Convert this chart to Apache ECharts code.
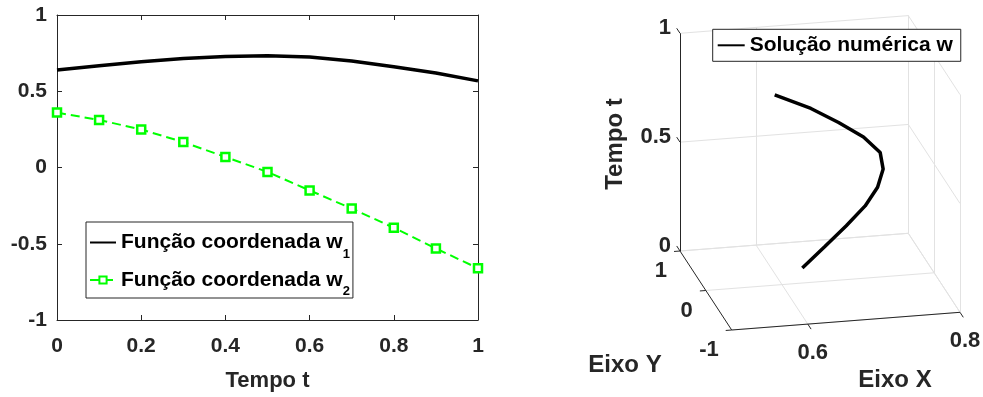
<!DOCTYPE html>
<html>
<head>
<meta charset="utf-8">
<script src="https://cdn.jsdelivr.net/npm/echarts@6/dist/echarts.min.js"></script>
<style>
  html, body { margin: 0; padding: 0; background: #fff; }
  #chart { width: 983px; height: 397px; }
</style>
</head>
<body>
<div id="chart"></div>
<script>
// dados
const tempo = [0, 0.1, 0.2, 0.3, 0.4, 0.5, 0.6, 0.7, 0.8, 0.9, 1];
const w1 = [0.639, 0.667, 0.693, 0.715, 0.728, 0.732, 0.724, 0.698, 0.661, 0.620, 0.568];
const w2 = [0.360, 0.312, 0.249, 0.167, 0.069, -0.029, -0.150, -0.269, -0.395, -0.531, -0.661];

// eixos do grafico 3D
const xLim3d = [0.5, 0.8];
const yLim3d = [-1, 1];
const zLim3d = [0, 1];
const xTicks3d = [0.6, 0.8];
const yTicks3d = [-1, 0, 1];
const zTicks3d = [0, 0.5, 1];

const FONT = '"Liberation Sans", Arial, Helvetica, sans-serif';
const AXIS = '#262626';
const GRID3D = '#e2e2e2';

// projecao da caixa 3D em pixels da pagina (vista fixa)
const view = { o: [731.7, 330], ex: [228.3, -17.7], ey: [-51.7, -79], ez: [0, -217.7] };
function proj(x, y, z) {
  const fx = (x - xLim3d[0]) / (xLim3d[1] - xLim3d[0]);
  const fy = (y - yLim3d[0]) / (yLim3d[1] - yLim3d[0]);
  const fz = (z - zLim3d[0]) / (zLim3d[1] - zLim3d[0]);
  return [
    view.o[0] + fx * view.ex[0] + fy * view.ey[0] + fz * view.ez[0],
    view.o[1] + fx * view.ex[1] + fy * view.ey[1] + fz * view.ez[1]
  ];
}
function unit(v) { const l = Math.hypot(v[0], v[1]); return [v[0] / l, v[1] / l]; }
function seg(a, b) { return { coords: [proj(...a), proj(...b)] }; }

const [x0, x1] = xLim3d, [y0, y1] = yLim3d, [z0, z1] = zLim3d;
const gridLines = [];
xTicks3d.forEach(x => { gridLines.push(seg([x, y0, z0], [x, y1, z0]), seg([x, y1, z0], [x, y1, z1])); });
yTicks3d.forEach(y => { gridLines.push(seg([x0, y, z0], [x1, y, z0]), seg([x1, y, z0], [x1, y, z1])); });
zTicks3d.forEach(z => { gridLines.push(seg([x0, y1, z], [x1, y1, z]), seg([x1, y0, z], [x1, y1, z])); });

const axisLines = [seg([x0, y0, z0], [x1, y0, z0]), seg([x0, y0, z0], [x0, y1, z0]), seg([x0, y1, z0], [x0, y1, z1])];
function tick(p, dir, len) { const u = unit(dir); return { coords: [p, [p[0] + u[0] * len, p[1] + u[1] * len]] }; }
xTicks3d.forEach(x => axisLines.push(tick(proj(x, y0, z0), [-view.ey[0], -view.ey[1]], 6)));
yTicks3d.forEach(y => axisLines.push(tick(proj(x0, y, z0), [-view.ex[0], -view.ex[1]], 6)));
zTicks3d.forEach(z => axisLines.push(tick(proj(x0, y1, z), view.ey, 6)));

const labels3d = [];
function addLabel(p, dx, dy, text, align, size, rotate) {
  labels3d.push({ pos: [p[0] + dx, p[1] + dy], text, align, size, rotate: rotate || 0 });
}
xTicks3d.forEach(x => addLabel(proj(x, y0, z0), 5, 29, String(x), 'center', 22));
yTicks3d.forEach(y => addLabel(proj(x0, y, z0), -13, 20, String(y), 'right', 22));
zTicks3d.forEach(z => addLabel(proj(x0, y1, z), -9, -5, String(z), 'right', 22));
addLabel([615, 144], 0, 0, 'Tempo t', 'center', 24, Math.PI / 2);
addLabel([625, 365], 0, 0, 'Eixo Y', 'center', 24);
addLabel([895, 380], 0, 0, 'Eixo X', 'center', 24);

const curve3d = tempo.map((t, i) => proj(w1[i], w2[i], t));

function legendRich(name) {
  const m = name.match(/^(.*w)(\d)$/);
  return m ? '{n|' + m[1] + '}{s|' + m[2] + '}' : '{n|' + name + '}';
}
const richText = {
  n: { fontFamily: FONT, fontWeight: 'bold', fontSize: 21, color: '#000', lineHeight: 36 },
  s: { fontFamily: FONT, fontWeight: 'bold', fontSize: 13, color: '#000', lineHeight: 10, verticalAlign: 'bottom' }
};
const hideSymbol = { opacity: 0 };

const chart = echarts.init(document.getElementById('chart'));
chart.setOption({
  animation: false,
  backgroundColor: '#fff',
  textStyle: { fontFamily: FONT },
  grid: [
    { left: 57, top: 15, width: 421, height: 308 },
    { left: 0, top: 0, right: 0, bottom: 0 }
  ],
  legend: [
    {
      data: [{ name: 'Função coordenada w1', itemStyle: hideSymbol }, 'Função coordenada w2'],
      orient: 'vertical', left: 86, top: 222, itemWidth: 26, itemHeight: 9, itemGap: 9,
      padding: [10, 3, 0, 3], backgroundColor: '#fff', borderColor: AXIS, borderWidth: 1,
      selectedMode: false, formatter: legendRich,
      textStyle: { fontFamily: FONT, fontWeight: 'bold', fontSize: 21, color: '#000', rich: richText }
    },
    {
      data: [{ name: 'Solução numérica w', itemStyle: hideSymbol }],
      left: 712.7, top: 29.3, itemWidth: 27, itemHeight: 12,
      padding: [4, 8, 4, 4], backgroundColor: '#fff', borderColor: AXIS, borderWidth: 1,
      selectedMode: false,
      textStyle: { fontFamily: FONT, fontWeight: 'bold', fontSize: 21, color: '#000', lineHeight: 24 }
    }
  ],
  xAxis: [
    {
      gridIndex: 0, type: 'value', min: 0, max: 1, interval: 0.2,
      name: 'Tempo t', nameLocation: 'middle', nameGap: 50,
      nameTextStyle: { fontFamily: FONT, fontWeight: 'bold', fontSize: 22, color: AXIS },
      axisLine: { onZero: false, lineStyle: { color: AXIS, width: 1 } },
      axisTick: { inside: true, length: 5, lineStyle: { color: AXIS } },
      axisLabel: { margin: 16, fontFamily: FONT, fontWeight: 'bold', fontSize: 21, color: AXIS },
      splitLine: { show: false }
    },
    {
      gridIndex: 0, type: 'value', position: 'top', min: 0, max: 1, interval: 0.2,
      axisLine: { onZero: false, lineStyle: { color: AXIS, width: 1 } },
      axisTick: { inside: true, length: 5, lineStyle: { color: AXIS } },
      axisLabel: { show: false }, splitLine: { show: false }
    },
    { gridIndex: 1, type: 'value', min: 0, max: 983, show: false }
  ],
  yAxis: [
    {
      gridIndex: 0, type: 'value', min: -1, max: 1, interval: 0.5,
      axisLine: { onZero: false, lineStyle: { color: AXIS, width: 1 } },
      axisTick: { inside: true, length: 5, lineStyle: { color: AXIS } },
      axisLabel: { margin: 10, fontFamily: FONT, fontWeight: 'bold', fontSize: 21, color: AXIS },
      splitLine: { show: false }
    },
    {
      gridIndex: 0, type: 'value', position: 'right', min: -1, max: 1, interval: 0.5,
      axisLine: { onZero: false, lineStyle: { color: AXIS, width: 1 } },
      axisTick: { inside: true, length: 5, lineStyle: { color: AXIS } },
      axisLabel: { show: false }, splitLine: { show: false }
    },
    { gridIndex: 1, type: 'value', min: 0, max: 397, inverse: true, show: false }
  ],
  series: [
    {
      name: 'Função coordenada w1', type: 'line', xAxisIndex: 0, yAxisIndex: 0,
      data: tempo.map((t, i) => [t, w1[i]]),
      symbol: 'none', lineStyle: { color: '#000', width: 3.5 }, itemStyle: { color: '#000' }
    },
    {
      name: 'Função coordenada w2', type: 'line', xAxisIndex: 0, yAxisIndex: 0,
      data: tempo.map((t, i) => [t, w2[i]]),
      symbol: 'rect', symbolSize: 8,
      lineStyle: { color: '#00ff00', width: 2, type: [9, 5] },
      itemStyle: { color: '#fff', borderColor: '#00ff00', borderWidth: 2.5 }
    },
    {
      type: 'lines', coordinateSystem: 'cartesian2d', xAxisIndex: 2, yAxisIndex: 2,
      data: gridLines, lineStyle: { color: GRID3D, width: 1, opacity: 1 }, silent: true
    },
    {
      type: 'lines', coordinateSystem: 'cartesian2d', xAxisIndex: 2, yAxisIndex: 2,
      data: axisLines, lineStyle: { color: AXIS, width: 1, opacity: 1 }, silent: true
    },
    {
      name: 'Solução numérica w', type: 'line', xAxisIndex: 2, yAxisIndex: 2,
      data: curve3d, symbol: 'none',
      lineStyle: { color: '#000', width: 3.5 }, itemStyle: { color: '#000' }
    },
    {
      type: 'custom', coordinateSystem: 'cartesian2d', xAxisIndex: 2, yAxisIndex: 2, silent: true,
      data: labels3d.map(l => l.pos),
      renderItem: function (params, api) {
        const l = labels3d[params.dataIndex];
        const p = api.coord(l.pos);
        return {
          type: 'text', x: p[0], y: p[1], rotation: l.rotate,
          style: {
            text: l.text, fill: AXIS, align: l.align, verticalAlign: 'middle',
            font: 'bold ' + l.size + 'px ' + FONT
          }
        };
      }
    }
  ]
});
</script>
</body>
</html>
